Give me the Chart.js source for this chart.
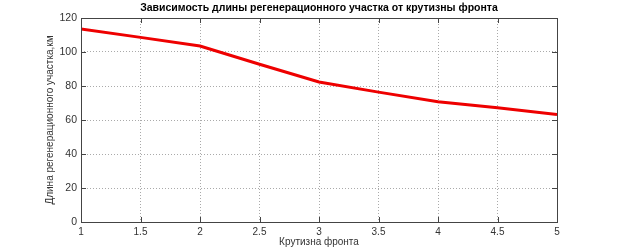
<!DOCTYPE html>
<html lang="ru">
<head>
  <meta charset="UTF-8">
  <title>Зависимость длины регенерационного участка</title>
  <script src="https://cdn.jsdelivr.net/npm/chart.js"></script>
  <style>
    body { margin: 0; background: #fff; }
    #wrap { width: 617px; height: 248px; }
  </style>
</head>
<body>
  <div id="wrap"><canvas id="chart"></canvas></div>
  <script>
    const steepness = [1, 1.5, 2, 2.5, 3, 3.5, 4, 4.5, 5];
    const sectionLength = [113.5, 108.6, 103.5, 92.8, 82.4, 76.4, 70.8, 67.2, 63.3];
    const xTicks = [1, 1.5, 2, 2.5, 3, 3.5, 4, 4.5, 5];
    const yTicks = [0, 20, 40, 60, 80, 100, 120];

    const FONT = "'Liberation Sans', Arial, sans-serif";

    // MATLAB-style frame with inward ticks, title centred over the axes
    const framePlugin = {
      id: 'frame',
      afterLayout(chart) {
        if (chart.titleBlock) {
          chart.titleBlock.left = chart.chartArea.left;
          chart.titleBlock.right = chart.chartArea.right;
        }
      },
      afterDraw(chart) {
        const { ctx, chartArea: a, scales } = chart;
        ctx.save();
        ctx.strokeStyle = '#444';
        ctx.lineWidth = 1;
        ctx.strokeRect(Math.round(a.left) + 0.5, Math.round(a.top) + 0.5,
          Math.round(a.right - a.left), Math.round(a.bottom - a.top));
        ctx.beginPath();
        xTicks.forEach(v => {
          const px = Math.round(scales.x.getPixelForValue(v)) + 0.5;
          ctx.moveTo(px, a.bottom); ctx.lineTo(px, a.bottom - 5);
          ctx.moveTo(px, a.top); ctx.lineTo(px, a.top + 5);
        });
        yTicks.forEach(v => {
          const py = Math.round(scales.y.getPixelForValue(v)) + 0.5;
          ctx.moveTo(a.left, py); ctx.lineTo(a.left + 5, py);
          ctx.moveTo(a.right, py); ctx.lineTo(a.right - 5, py);
        });
        ctx.stroke();
        ctx.restore();
      }
    };

    new Chart(document.getElementById('chart'), {
      type: 'line',
      data: {
        datasets: [{
          data: steepness.map((x, i) => ({ x: x, y: sectionLength[i] })),
          borderColor: '#ee0000',
          borderWidth: 3,
          pointRadius: 0,
          tension: 0
        }]
      },
      options: {
        responsive: true,
        maintainAspectRatio: false,
        animation: false,
        layout: { padding: { left: 41, right: 60, top: 1, bottom: 0 } },
        plugins: {
          legend: { display: false },
          tooltip: { enabled: false },
          title: {
            display: true,
            text: 'Зависимость длины регенерационного участка от крутизны фронта',
            color: '#000',
            font: { family: FONT, size: 10.5, weight: 'bold', lineHeight: 1.2 },
            padding: { top: 1, bottom: 3.4 }
          }
        },
        scales: {
          x: {
            type: 'linear',
            min: 1, max: 5,
            afterBuildTicks: s => { s.ticks = xTicks.map(v => ({ value: v })); },
            afterFit: s => { s.height = 26; },
            grid: { color: '#aaa', drawTicks: false },
            border: { display: false, dash: [1, 2] },
            ticks: {
              color: '#333', padding: 4, maxRotation: 0,
              font: { family: FONT, size: 10 },
              callback: v => String(v)
            },
            title: {
              display: true, text: 'Крутизна фронта', color: '#333',
              font: { family: FONT, size: 10 }, padding: { top: 0, bottom: 0 }
            }
          },
          y: {
            min: 0, max: 120,
            afterBuildTicks: s => { s.ticks = yTicks.map(v => ({ value: v })); },
            afterFit: s => { s.width = 40; },
            grid: { color: '#aaa', drawTicks: false },
            border: { display: false, dash: [1, 2] },
            ticks: { color: '#333', padding: 4, font: { family: FONT, size: 10.5 } },
            title: {
              display: true, text: 'Длина регенерационного участка,км', color: '#333',
              font: { family: FONT, size: 10 }, padding: { top: 3, bottom: 0 }
            }
          }
        }
      },
      plugins: [framePlugin]
    });
  </script>
</body>
</html>
